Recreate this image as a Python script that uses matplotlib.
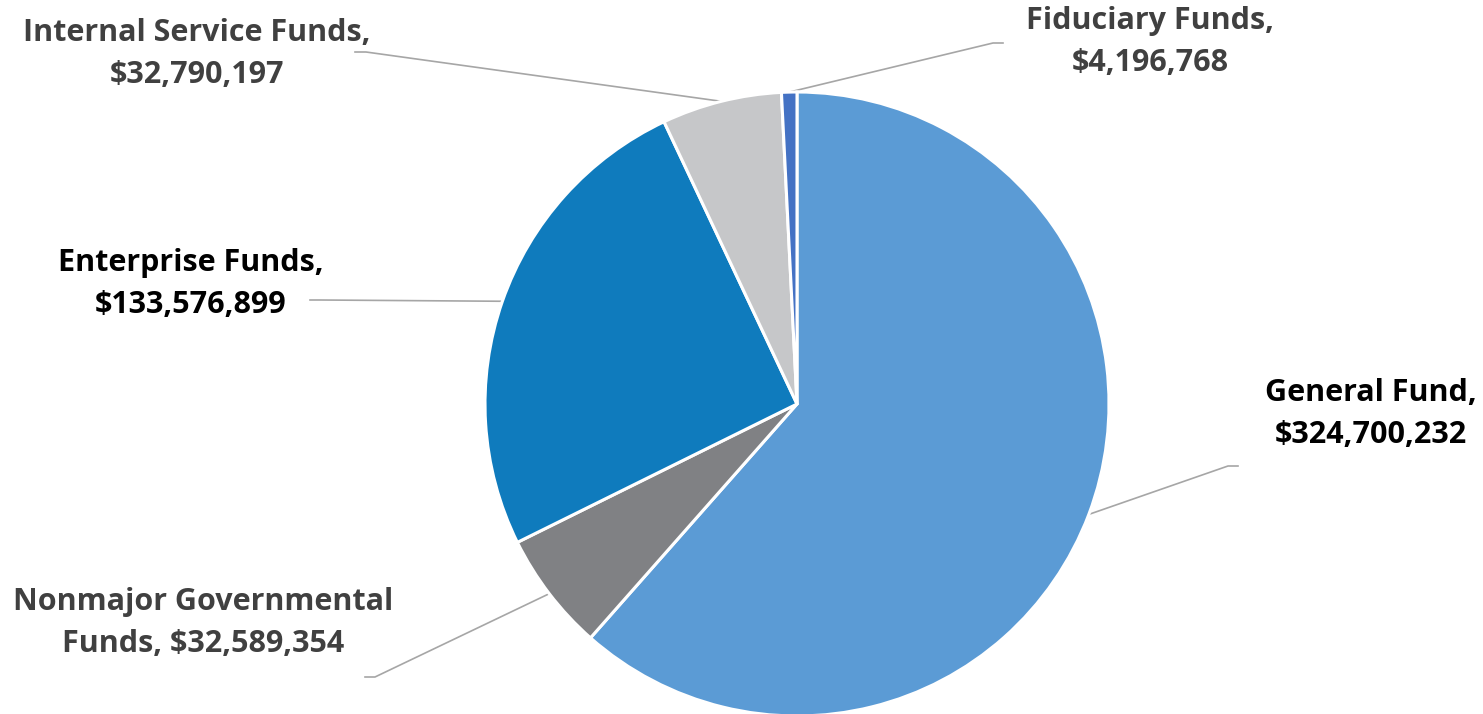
import numpy as np
import matplotlib.pyplot as plt

# Fund balances, clockwise from 12 o'clock
funds = ['General Fund', 'Nonmajor Governmental\nFunds', 'Enterprise Funds',
         'Internal Service Funds', 'Fiduciary Funds']
amounts = [324700232, 32589354, 133576899, 32790197, 4196768]
colors = ['#5B9BD5', '#808184', '#0F7BBD', '#C6C7C9', '#4472C4']
text_colors = ['#000000', '#404040', '#000000', '#404040', '#404040']

# label layout in pixels from top-left (text block center, leader elbow, leader end)
label_xy = [(1371, 414), (203, 623), (191, 284), (197, 54), (1150, 42)]
leader_end = [(1238, 466), (365, 677), (310, 300), (355, 52), (1003, 43)]
leader_elbow = [(1228, 466), (375, 677), (320, 300), (366, 52), (993, 43)]

W, H = 1483, 714
cx, cy, R = 797, H - 404, 312

fig = plt.figure(figsize=(W / 100, H / 100), dpi=100)
ax = fig.add_axes([0, 0, 1, 1])

wedges, _ = ax.pie(amounts, colors=colors, startangle=90, counterclock=False,
                   radius=R, center=(cx, cy), frame=True,
                   wedgeprops=dict(edgecolor='white', linewidth=2.2))
ax.set_xlim(0, W)
ax.set_ylim(0, H)
ax.set_aspect('equal')
ax.axis('off')

for i, w in enumerate(wedges):
    ang = np.deg2rad((w.theta1 + w.theta2) / 2)
    sx = cx + R * np.cos(ang)
    sy = cy + R * np.sin(ang)
    ex, ey = leader_elbow[i]
    tx, ty = leader_end[i]
    ax.plot([sx, ex, tx], [sy, H - ey, H - ty], color='#A6A6A6', lw=1.2, zorder=0)
    name = funds[i]
    val = f'${amounts[i]:,}'
    if i == 1:
        txt = f'{name}, {val}'
    else:
        txt = f'{name},\n{val}'
    ax.text(label_xy[i][0], H - label_xy[i][1], txt, ha='center', va='center',
            multialignment='center', fontsize=22, fontweight='bold',
            family='Open Sans', color=text_colors[i], linespacing=1.55)

fig.savefig('out.png', dpi=100)
